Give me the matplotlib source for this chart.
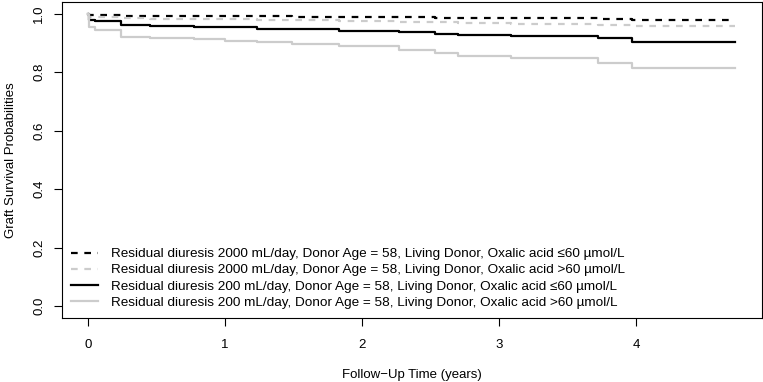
import matplotlib
matplotlib.use("Agg")
import matplotlib.pyplot as plt

plt.rcParams['font.family'] = ['Liberation Sans', 'DejaVu Sans']

# step times (years) shared by all predicted curves
times = [0, 0.01, 0.05, 0.24, 0.45, 0.77, 1.0, 1.23, 1.49, 1.83, 2.27, 2.53, 2.70, 3.09, 3.72, 3.97, 4.72]

surv_2000_low = [1.0, 0.996, 0.995, 0.993, 0.993, 0.992, 0.992, 0.991, 0.990, 0.989, 0.988, 0.986, 0.985, 0.984, 0.982, 0.978, 0.978]
surv_2000_high = [1.0, 0.990, 0.988, 0.984, 0.983, 0.982, 0.981, 0.980, 0.978, 0.976, 0.973, 0.970, 0.968, 0.966, 0.963, 0.958, 0.958]
surv_200_low = [1.0, 0.978, 0.975, 0.961, 0.959, 0.956, 0.953, 0.948, 0.946, 0.942, 0.937, 0.931, 0.927, 0.923, 0.916, 0.904, 0.904]
surv_200_high = [1.0, 0.955, 0.945, 0.922, 0.918, 0.912, 0.907, 0.904, 0.897, 0.888, 0.876, 0.865, 0.856, 0.848, 0.833, 0.813, 0.813]

labels = [
    "Residual diuresis 2000 mL/day, Donor Age = 58, Living Donor, Oxalic acid \u226460 \u00b5mol/L",
    "Residual diuresis 2000 mL/day, Donor Age = 58, Living Donor, Oxalic acid >60 \u00b5mol/L",
    "Residual diuresis 200 mL/day, Donor Age = 58, Living Donor, Oxalic acid \u226460 \u00b5mol/L",
    "Residual diuresis 200 mL/day, Donor Age = 58, Living Donor, Oxalic acid >60 \u00b5mol/L",
]

gray = '#cccccc'
styles = [('black', (0, (3, 3))), (gray, (0, (3, 3))), ('black', '-'), (gray, '-')]
series = [surv_2000_low, surv_2000_high, surv_200_low, surv_200_high]

fig = plt.figure(figsize=(7.63, 3.82), dpi=100)
ax = fig.add_axes([0.0813, 0.1675, 0.9174, 0.8273])

for s, (c, ls), lab in zip(series, styles, labels):
    ax.step(times, s, where='post', color=c, linestyle=ls, lw=1.6, label=lab)

ax.set_xlim(-0.19, 4.92)
ax.set_ylim(-0.04, 1.04)
ax.set_xticks([0, 1, 2, 3, 4])
ax.set_yticks([0.0, 0.2, 0.4, 0.6, 0.8, 1.0])
ax.set_yticklabels(['0.0', '0.2', '0.4', '0.6', '0.8', '1.0'], rotation=90, va='center')
ax.tick_params(direction='out', length=6, width=0.8, labelsize=9.5)
ax.tick_params(axis='x', pad=9)
ax.tick_params(axis='y', pad=6)
for sp in ax.spines.values():
    sp.set_linewidth(0.8)

ax.set_xlabel("Follow\u2212Up Time (years)", fontsize=9.5, labelpad=13)
ax.set_ylabel("Graft Survival Probabilities", fontsize=9.5, labelpad=12)

ax.legend(loc='lower left', frameon=False, fontsize=9.7, handlelength=1.95,
          handletextpad=0.95, labelspacing=0.27, borderaxespad=0.4,
          borderpad=0.3, bbox_to_anchor=(0.0, 0.0))

fig.savefig("out.png", dpi=100)
